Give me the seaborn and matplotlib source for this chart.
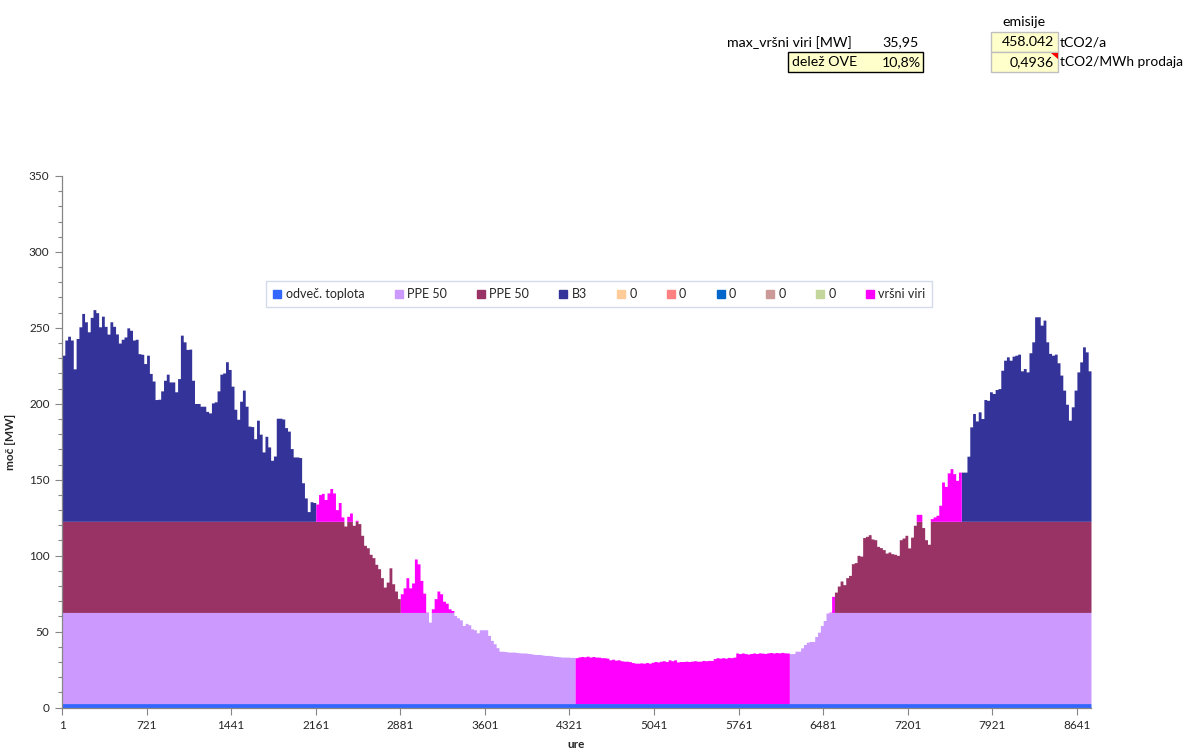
import numpy as np
import pandas as pd
import matplotlib
matplotlib.use('Agg')
import matplotlib.pyplot as plt
from matplotlib.patches import Rectangle, Polygon
from matplotlib.lines import Line2D
from matplotlib.ticker import MultipleLocator
import seaborn as sns

# daily heat demand [MW], one value per day (365)
demand = [
    232, 242, 244.5, 242, 223, 243, 250.7, 259.5, 254, 247.4,
    256.9, 262, 260, 250.7, 257.7, 251, 245.9, 254, 251, 246,
    240, 242.5, 244, 250, 248.4, 242, 242.5, 233, 232.6, 226.5,
    232, 220, 215, 202.8, 203, 208.5, 215.5, 219.5, 214.4, 214.4,
    207.9, 216.6, 245.2, 240.8, 235.8, 236, 215.5, 200.2, 200.2, 198.4,
    198.4, 195, 194, 200.6, 201.3, 208.5, 219.5, 220.3, 227.7, 222.6,
    211.6, 196.4, 189.8, 201.7, 209, 198.4, 185.3, 185, 177, 189.2,
    180, 168.3, 178.6, 171.6, 162.8, 165.6, 190.5, 190.5, 190, 184.3,
    182, 170.5, 165, 165, 164.6, 148, 138, 129, 135.5, 135,
    134, 140.2, 141, 137, 141.3, 144.2, 141.3, 130.3, 135, 125.5,
    119.5, 125.9, 128.1, 120, 123.3, 121.1, 113.4, 106.8, 105.2, 100.9,
    98.7, 94.3, 91.4, 85.5, 79.3, 82.6, 92, 81.5, 76.7, 71.7,
    74.9, 78.8, 85.5, 78.8, 82, 97.8, 94.6, 83.7, 75.3, 62.8,
    56.2, 65, 71.7, 76.7, 74.9, 70, 68.7, 65, 63.9, 60.6,
    59.1, 57.7, 54, 55.4, 54.5, 51.8, 51.2, 49.2, 51.2, 51.2,
    51.2, 47.5, 44.2, 42, 39.4, 37.1, 37, 36.8, 36.5, 36.5,
    36.5, 36.2, 36, 35.9, 35.9, 35.6, 35.4, 35, 34.9, 34.9,
    34.6, 34.3, 34.3, 34.1, 33.8, 33.6, 33.4, 33.2, 33.2, 33.2,
    33.0, 33.0, 32.8, 33.3, 33.6, 33.4, 33.8, 33.2, 33.6, 33.2,
    33.2, 32.8, 32.8, 32.5, 31.4, 31.8, 31.2, 31.4, 30.8, 30.5,
    30.5, 30.2, 29.6, 29.2, 29.2, 29.4, 29.2, 29.6, 29.2, 29.8,
    30.3, 30.0, 30.5, 30.8, 30.3, 31.4, 30.8, 31.4, 30.0, 30.3,
    30.3, 30.5, 30.3, 30.5, 30.8, 30.5, 30.5, 31.0, 30.8, 31.0,
    31.0, 32.2, 32.8, 32.5, 32.8, 32.5, 33.0, 32.8, 33.2, 35.9,
    35.5, 35.9, 35.5, 35.2, 35.6, 35.9, 35.6, 36.0, 35.8, 35.6,
    36.0, 36.2, 35.9, 36.2, 36.0, 36.3, 36.0, 35.9, 35.5, 35.5,
    37.1, 37.1, 39.3, 41.5, 43, 43.5, 43.5, 46.8, 49.6, 54,
    57.3, 62.2, 62.8, 73.2, 76, 80, 83.3, 80.9, 85.5, 87,
    94.7, 95.4, 100.2, 99.7, 111.9, 112.7, 113.8, 111, 110.5, 106.1,
    105.3, 104, 101.7, 102.4, 101.3, 100.9, 100.2, 110.5, 111.6, 113.4,
    105.1, 112.2, 120, 127.2, 127.2, 118.5, 110.5, 107.5, 124.4, 125.5,
    126.6, 133.2, 148.5, 145.6, 154.5, 157.3, 154, 149.6, 155, 155,
    155, 165.5, 184.8, 193.6, 188.7, 194.7, 190.3, 202.8, 202.3, 207.9,
    206.8, 209.4, 210, 222.1, 228.7, 230.9, 228.7, 231.4, 232, 232.7,
    221.7, 223.2, 221, 233.6, 240.8, 257.3, 257.3, 251.8, 255.1, 240.8,
    233.2, 232, 232.7, 227, 218.9, 209, 199.7, 189.2, 198, 209,
    221, 227.6, 237.5, 234.2, 221.7,
]

# unit capacities [MW]
waste_heat_mw = 2.6
ppe_mw = 60

# days (start, end) when a unit is out of operation
ppe_light_off = (182, 258)
ppe_dark_off = (120, 274)
b3_off = (90, 319)

units = ['waste', 'ppe_light', 'ppe_dark', 'b3', 'peak']
unit_colors = {'waste': '#3366FF', 'ppe_light': '#CC99FF', 'ppe_dark': '#993366',
               'b3': '#333399', 'peak': '#FF00FF'}

legend_labels = ['odveč. toplota', 'PPE 50', 'PPE 50', 'B3', '0', '0', '0', '0', '0', 'vršni viri']
legend_colors = ['#3366FF', '#CC99FF', '#993366', '#333399', '#FFCC99',
                 '#FF8080', '#0066CC', '#CC9999', '#C3D69B', '#FF00FF']

x_ticks = [1, 721, 1441, 2161, 2881, 3601, 4321, 5041, 5761, 6481, 7201, 7921, 8641]
y_ticks = [0, 50, 100, 150, 200, 250, 300, 350]

# dispatch: fill the demand unit by unit in merit order
day = np.arange(len(demand))
rest = np.array(demand, dtype=float)


def running(off):
    return (day < off[0]) | (day >= off[1])


parts = {}
parts['waste'] = np.minimum(rest, waste_heat_mw)
rest = rest - parts['waste']
parts['ppe_light'] = np.where(running(ppe_light_off), np.minimum(rest, ppe_mw), 0)
rest = rest - parts['ppe_light']
parts['ppe_dark'] = np.where(running(ppe_dark_off), np.minimum(rest, ppe_mw), 0)
rest = rest - parts['ppe_dark']
parts['b3'] = np.where(running(b3_off), rest, 0)
rest = rest - parts['b3']
parts['peak'] = rest

df = pd.concat([pd.DataFrame({'hour': day * 24 + 13, 'mw': parts[u], 'unit': u}) for u in units],
               ignore_index=True)

sns.set_style('white')
plt.rcParams['font.family'] = ['Lato', 'DejaVu Sans']

W, H = 1188, 752
fig = plt.figure(figsize=(W / 100, H / 100), dpi=100)
ax = fig.add_axes([62 / W, 1 - 707.5 / H, 1029 / W, 531.5 / H])

# seaborn stacks the first hue level on top, so reverse the merit order
sns.histplot(data=df, x='hour', weights='mw', hue='unit', hue_order=units[::-1],
             palette=unit_colors, multiple='stack', element='step', fill=True,
             binwidth=24, binrange=(1, 8761), alpha=1, linewidth=0, legend=False, ax=ax)

ax.set_xlim(1, 8761)
ax.set_ylim(0, 350)
ax.set_xticks(x_ticks)
ax.set_xticklabels([str(t) for t in x_ticks])
ax.set_yticks(y_ticks)
ax.yaxis.set_minor_locator(MultipleLocator(10))
ax.tick_params(axis='both', which='major', direction='out', length=5, width=0.8,
               color='#868686', labelsize=8.5, labelcolor='#262626', pad=4)
ax.tick_params(axis='y', which='minor', direction='out', length=3, width=0.8,
               color='#868686', left=True)
ax.tick_params(axis='x', pad=4)
ax.tick_params(left=True, bottom=True)
for s in ['top', 'right']:
    ax.spines[s].set_visible(False)
for s in ['left', 'bottom']:
    ax.spines[s].set_color('#868686')
    ax.spines[s].set_linewidth(0.9)
ax.grid(False)

ax.set_xlabel('ure', fontsize=8.5, fontweight='bold', labelpad=6)
ax.set_ylabel('moč [MW]', fontsize=8.5, fontweight='bold', labelpad=9)

handles = [Line2D([], [], marker='s', linestyle='none', markersize=6,
                  markerfacecolor=c, markeredgecolor=c) for c in legend_colors]
leg = ax.legend(handles, legend_labels, ncol=10, loc='center',
                bbox_to_anchor=(0.522, 0.778), frameon=True, fancybox=False,
                fontsize=9, handlelength=0.7, handletextpad=0.3,
                columnspacing=2.4, borderpad=0.55, borderaxespad=0)
leg.get_frame().set_edgecolor('#C9D3E6')
leg.get_frame().set_linewidth(1.0)


def fx(x):
    return x / W


def fy(y):
    return 1 - y / H


def box(x0, y0, x1, y1, ec):
    fig.add_artist(Rectangle((fx(x0), fy(y1)), fx(x1 - x0), (y1 - y0) / H,
                             transform=fig.transFigure, facecolor='#FFFFCC',
                             edgecolor=ec, linewidth=1))


box(788, 52, 923, 72, '#000000')
box(991, 32, 1058, 52, '#BFBFBF')
box(991, 52, 1058, 72, '#BFBFBF')
fig.add_artist(Polygon([[fx(1051), fy(52.5)], [fx(1057.5), fy(52.5)], [fx(1057.5), fy(59)]],
                       closed=True, transform=fig.transFigure, facecolor='#FF0000',
                       edgecolor='none'))

tk = dict(fontsize=10.2, color='#000000', va='center', transform=fig.transFigure)
fig.text(fx(1024), fy(22), 'emisije', ha='center', **tk)
fig.text(fx(852), fy(42.5), 'max_vršni viri [MW]', ha='right', **tk)
fig.text(fx(919), fy(42.5), '35,95', ha='right', **tk)
fig.text(fx(792), fy(62), 'delež OVE', ha='left', **tk)
fig.text(fx(921), fy(62), '10,8%', ha='right', **tk)
fig.text(fx(1054), fy(42.5), '458.042', ha='right', **tk)
fig.text(fx(1060), fy(42.5), 'tCO2/a', ha='left', **tk)
fig.text(fx(1054), fy(62), '0,4936', ha='right', **tk)
fig.text(fx(1060), fy(62), 'tCO2/MWh prodaja', ha='left', fontsize=9.9, color='#000000',
         va='center', transform=fig.transFigure)

fig.savefig('out.png', dpi=100)
